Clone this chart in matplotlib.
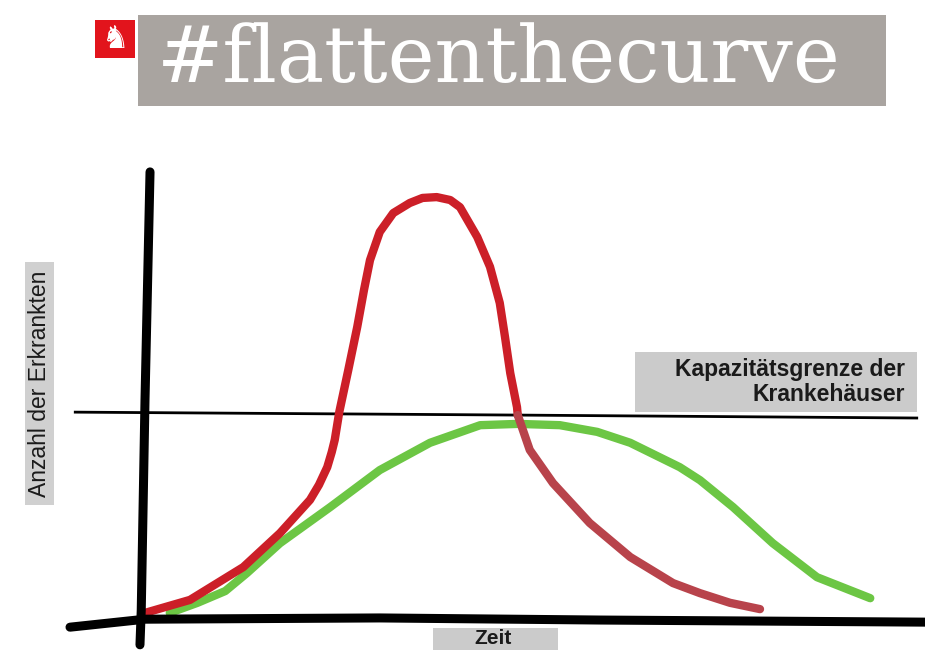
import matplotlib
matplotlib.use('Agg')
import matplotlib.pyplot as plt
from matplotlib.patches import Rectangle

# hand-drawn curves: time (x) vs. number of sick people (y), red peak ~ 100
red_rise_t = [0, 6.0, 13.1, 18.0, 22.0, 23.2, 24.3, 24.9, 25.3, 25.9, 27.1, 28.3,
              29.2, 30.0, 31.3, 33.1, 35.3, 37.0, 38.9, 40.7, 42.0, 44.3, 46.0,
              47.3, 48.0, 48.7, 49.6, 49.7]
red_rise_c = [0.5, 3.6, 11.4, 19.5, 27.4, 31.0, 35.2, 38.8, 41.7, 48.3, 58.3, 68.6,
              77.4, 84.5, 91.2, 95.7, 98.1, 99.3, 99.5, 98.8, 97.1, 90.0, 82.9,
              74.3, 66.2, 57.6, 49.5, 47.6]
red_fall_t = [49.7, 51.3, 54.4, 59.3, 64.7, 70.4, 74.0, 78.0, 82.0]
red_fall_c = [47.6, 39.3, 31.4, 21.9, 13.8, 7.6, 5.2, 2.9, 1.4]

green_t = [3.3, 7.0, 10.7, 13.6, 18.0, 24.7, 31.3, 38.0, 44.7, 49.7, 55.3, 60.3,
           64.7, 71.3, 74.0, 78.4, 83.7, 89.6, 96.7]
green_c = [0.5, 2.9, 5.7, 10.0, 17.1, 25.7, 34.5, 41.0, 45.2, 45.5, 45.2, 43.6,
           41.0, 35.2, 32.1, 25.7, 17.1, 9.0, 4.0]

capacity_t = [-9.3, 49.7, 102.9]
capacity_c = [48.3, 47.6, 46.9]

# hand-drawn axis strokes
yaxis_t = [0.67, 0.0, -0.5, -0.67]
yaxis_c = [105.5, 51.2, 1.2, -7.1]
xaxis_t = [-10, 0, 31.3, 60.7, 104]
xaxis_c = [-2.9, -1.0, -0.7, -1.2, -1.7]

title = '#flattenthecurve'
capacity_label = 'Kapazitätsgrenze der\nKrankehäuser'
ylabel = 'Anzahl der Erkrankten'
xlabel = 'Zeit'

fig = plt.figure(figsize=(9.25, 6.5), dpi=100)

# overlay in pixel coordinates for the banner and label boxes
deco = fig.add_axes([0, 0, 1, 1])
deco.set_xlim(0, 925)
deco.set_ylim(650, 0)
deco.axis('off')

deco.add_patch(Rectangle((138, 15), 748, 91, color='#a9a4a0', lw=0))
deco.text(157, 60, title, fontsize=57, color='white', family='DejaVu Serif',
          va='center', ha='left')
deco.add_patch(Rectangle((95, 20), 40, 38, color='#e2141c', lw=0))
deco.text(115, 40, '\u265e', fontsize=22, color='white', ha='center', va='center',
          family='DejaVu Sans')

deco.add_patch(Rectangle((635, 352), 282, 60, color='#cbcbcb', lw=0))
deco.text(905, 382, capacity_label, fontsize=16.5, weight='bold', color='#1a1a1a',
          ha='right', va='center', family='Liberation Sans', linespacing=1.1)

deco.add_patch(Rectangle((25, 262), 29, 243, color='#d0d0d0', lw=0))
deco.text(40, 384, ylabel, fontsize=16.5, rotation=90, color='#1a1a1a',
          ha='center', va='center', family='Liberation Sans')

deco.add_patch(Rectangle((433, 628), 125, 22, color='#cbcbcb', lw=0))
deco.text(493, 638, xlabel, fontsize=15, weight='bold', color='#1a1a1a',
          ha='center', va='center', family='Liberation Sans')

# chart axes: origin at pixel (145, 615)
ax = fig.add_axes([0, 0, 1, 1], facecolor='none')
ax.set_xlim(-145 / 7.5, 780 / 7.5)
ax.set_ylim(-35 / 4.2, 615 / 4.2)
ax.axis('off')

style = dict(lw=6, solid_capstyle='round', solid_joinstyle='round')
ax.plot(capacity_t, capacity_c, color='black', lw=2)
ax.plot(green_t, green_c, color='#6cc644', **style)
ax.plot(red_rise_t, red_rise_c, color='#cc1f28', **style)
ax.plot(red_fall_t, red_fall_c, color='#b8434b', **style)
ax.plot(xaxis_t, xaxis_c, color='black', lw=6.5, solid_capstyle='round')
ax.plot(yaxis_t, yaxis_c, color='black', lw=6.5, solid_capstyle='round')

fig.savefig('out.png', dpi=100)
